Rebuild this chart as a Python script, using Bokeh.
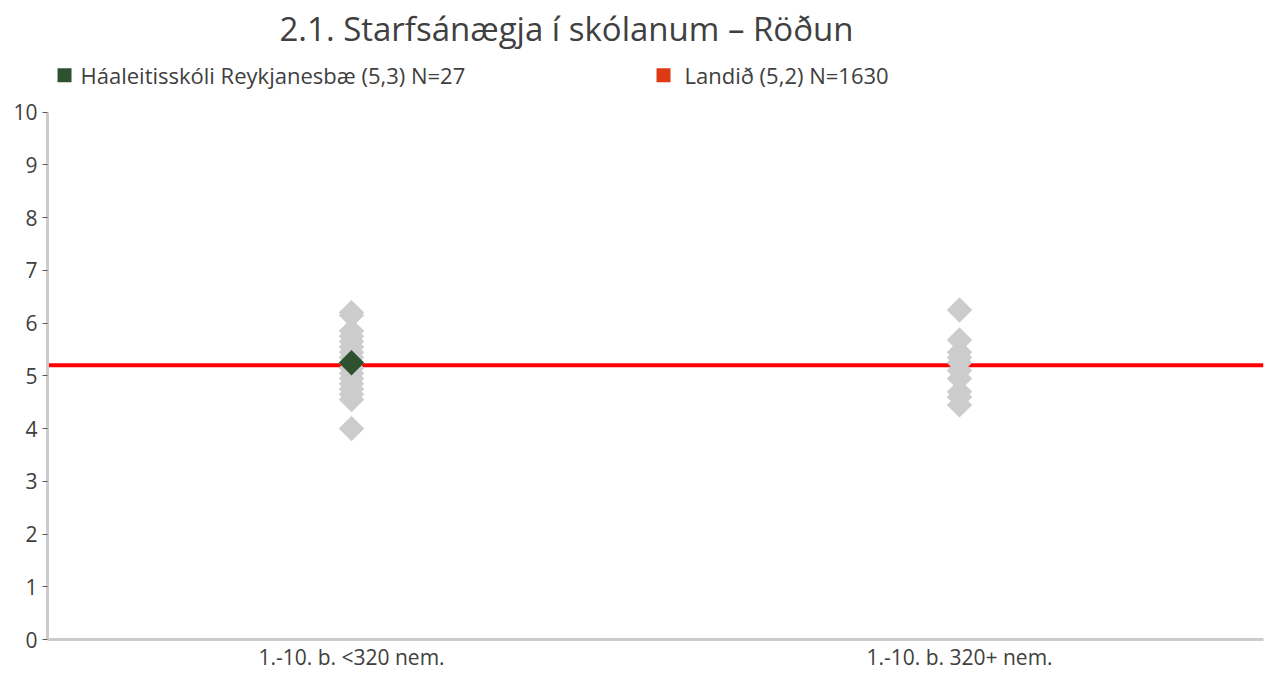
import numpy as np
from bokeh.plotting import figure
from bokeh.models import FactorRange, Range1d, FixedTicker, Span, Label
from bokeh.embed import file_html
from bokeh.resources import INLINE

# ---- data ----
categories = ["1.-10. b. <320 nem.", "1.-10. b. 320+ nem."]
small_school_values = [6.2, 6.15, 5.85, 5.75, 5.65, 5.55, 5.45, 5.35, 5.25,
                       5.15, 5.05, 4.95, 4.85, 4.75, 4.65, 4.55, 4.0]
large_school_values = [6.25, 5.68, 5.45, 5.35, 5.25, 5.1, 4.95, 4.7, 4.6, 4.45]
school_category = "1.-10. b. <320 nem."
school_value = 5.25
national_value = 5.2
y_ticks = [0, 1, 2, 3, 4, 5, 6, 7, 8, 9, 10]
title_text = "2.1. Starfsánægja í skólanum – Röðun"
school_label = "Háaleitisskóli Reykjanesbæ (5,3) N=27"
national_label = "Landið (5,2) N=1630"

GREEN = "#2E5230"
LEGEND_RED = "#DD3A14"
LINE_RED = "#FF0000"
GREY = "#CCCCCC"
FONT = "Open Sans"
TEXT = "#404040"

Y_TOP = 12.12  # headroom above the 0-10 scale for title and legend

p = figure(width=1272, height=673,
           x_range=FactorRange(factors=categories),
           y_range=Range1d(0, Y_TOP),
           output_backend="svg", toolbar_location=None, title=None,
           min_border_left=47, min_border_right=9,
           min_border_top=0, min_border_bottom=33)

p.outline_line_color = None
p.xgrid.visible = False
p.ygrid.visible = False

# national average line (under the markers)
p.add_layout(Span(location=national_value, dimension="width",
                  line_color=LINE_RED, line_width=4, level="underlay"))

gx = [categories[0]] * len(small_school_values) + [categories[1]] * len(large_school_values)
gy = small_school_values + large_school_values
p.scatter(x=gx, y=gy, marker="square", angle=np.pi / 4, size=18,
          fill_color=GREY, line_color=None)
p.scatter(x=[school_category], y=[school_value], marker="square",
          angle=np.pi / 4, size=18, fill_color=GREEN, line_color=None)

# title
p.add_layout(Label(x=0.8536, y=11.59, text=title_text, text_align="center",
                   text_baseline="middle", text_font=FONT,
                   text_font_size="33px", text_color=TEXT))

# legend (drawn by hand)
LEG_Y = 10.70
p.scatter(x=[0.028, 1.0132], y=[LEG_Y, LEG_Y], marker="square", size=14,
          fill_color=[GREEN, LEGEND_RED], line_color=None)
p.add_layout(Label(x=0.0543, y=LEG_Y, text=school_label, text_align="left",
                   text_baseline="middle", text_font=FONT,
                   text_font_size="22px", text_color=TEXT))
p.add_layout(Label(x=1.0477, y=LEG_Y, text=national_label, text_align="left",
                   text_baseline="middle", text_font=FONT,
                   text_font_size="22px", text_color=TEXT))

# axes
p.yaxis.ticker = FixedTicker(ticks=y_ticks)
p.yaxis.bounds = (0, 10)
p.yaxis.axis_line_color = GREY
p.yaxis.axis_line_width = 3
p.yaxis.major_tick_out = 5
p.yaxis.major_tick_in = 0
p.yaxis.major_tick_line_color = "#595959"
p.yaxis.minor_tick_line_color = None
p.yaxis.major_label_standoff = 5
p.yaxis.major_label_text_font = FONT
p.yaxis.major_label_text_font_size = "21px"
p.yaxis.major_label_text_color = TEXT

p.xaxis.axis_line_color = GREY
p.xaxis.axis_line_width = 3
p.xaxis.major_tick_line_color = None
p.xaxis.major_tick_out = 0
p.xaxis.major_tick_in = 0
p.xaxis.minor_tick_line_color = None
p.xaxis.major_label_standoff = 3
p.xaxis.major_label_text_font = FONT
p.xaxis.major_label_text_font_size = "21px"
p.xaxis.major_label_text_color = TEXT

open("out.html", "w").write(file_html(p, INLINE))
